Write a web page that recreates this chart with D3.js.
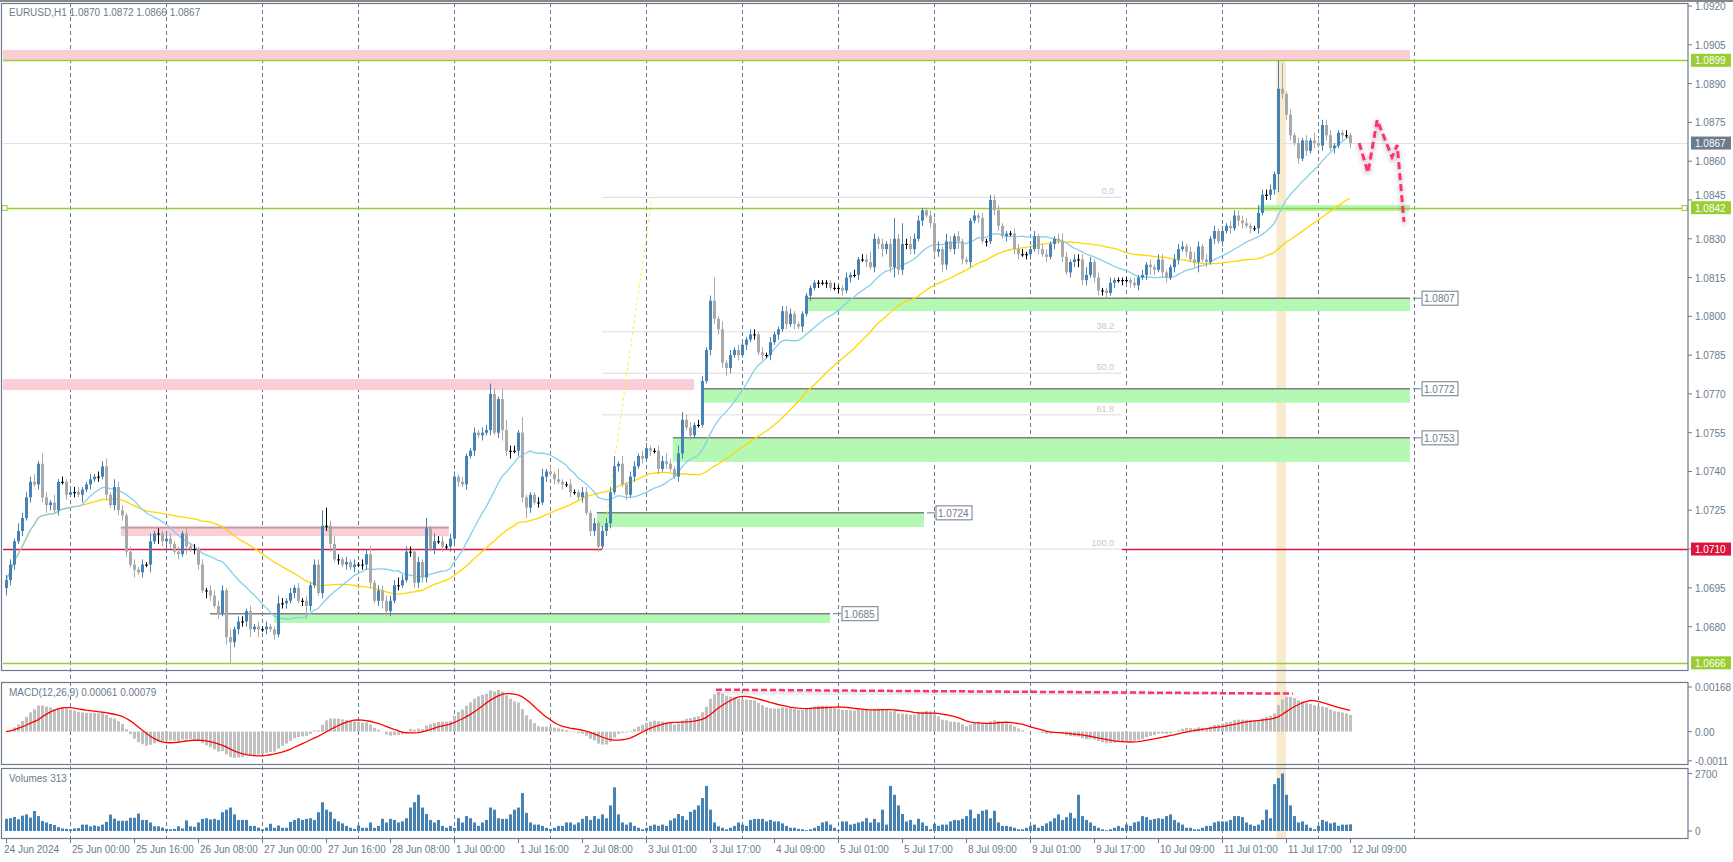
<!DOCTYPE html>
<html>
<head>
<meta charset="utf-8">
<script src="https://cdn.jsdelivr.net/npm/d3@7"></script>
<style>
  body { margin: 0; background: #fff; }
  svg { display: block; font-family: "Liberation Sans", Arial, sans-serif; }
</style>
</head>
<body>
<svg id="chart" width="1733" height="862"></svg>
<script>
// Close prices in pips above 1.0600, one per H1 bar (24 Jun 08:00 .. 12 Jul 08:00)
const closes = [
  98,104,113,117,122,130,136,135,143,130,127,128,125,136,136,131,132,132,131,133,
  135,137,138,138,142,131,127,134,125,123,109,104,102,101,104,104,113,116,116,113,
  114,112,109,108,116,111,110,110,104,94,94,92,88,85,94,76,74,79,82,82,
  86,79,80,79,79,80,79,77,89,89,90,93,95,90,90,88,96,104,93,119,
  119,112,106,106,104,105,103,104,104,104,108,97,90,94,90,86,90,96,96,98,
  109,109,97,105,99,118,110,113,113,111,111,114,138,136,135,146,148,155,154,155,
  156,170,155,168,156,148,148,148,155,130,126,131,128,128,138,140,139,137,136,135,
  135,132,132,130,132,124,117,120,111,117,120,132,142,143,135,131,138,142,146,145,
  149,148,148,141,144,143,141,138,147,160,157,154,158,158,175,187,206,199,195,182,
  180,185,187,185,189,191,193,193,186,185,185,190,193,195,202,197,201,197,196,201,
  208,211,213,213,213,213,211,211,211,210,215,216,216,222,222,221,219,230,228,226,
  228,219,230,218,228,228,226,230,237,241,239,236,225,226,220,229,226,231,229,222,
  221,237,239,238,229,229,245,241,235,231,232,232,226,224,224,224,226,231,226,224,
  223,228,230,229,223,217,221,222,222,214,216,221,215,210,210,209,213,214,214,214,
  214,213,212,215,216,220,219,218,222,217,215,219,222,226,227,225,222,221,227,222,
  221,230,233,229,233,235,234,239,237,236,235,234,234,240,247,247,249,255,288,286,
  278,270,267,261,268,264,268,267,266,274,270,265,266,271,270,270,267
];
const firstOpen = 95;
// Wick lengths beyond the body, in pips (a = 10, b = 11)
const wickHi =
  "2213222314" + "2131212221" + "1212231322" + "1221213121" + "3212121212" +
  "1222213122" + "1212121132" + "1212121226" + "7232121212" + "2312222232" +
  "2212141322" + "1221211212" + "2421442216" + "1112312141" + "1211221212" +
  "2241312212" + "2112232133" + "2212212913" + "1212112212" + "1211222111" +
  "1111111211" + "2121224212" + "1282823221" + "1223132121" + "1121212221" +
  "1122211212" + "2112321222" + "3212112111" + "1121212122" + "1122212321" +
  "2121212222" + "21132221ba" + "1212121322" + "2211121";
const wickLo =
  "3221212122" + "3212121213" + "1212121222" + "2131213142" + "4212131221" +
  "3212138222" + "2313121212" + "2121252112" + "2312121212" + "2212322121" +
  "1222221212" + "1232121212" + "1212423122" + "4212121212" + "1211212221" +
  "2212121212" + "1212121122" + "1211112222" + "3212121212" + "1212121212" +
  "1212121122" + "1212121223" + "2242222212" + "1222321232" + "1212121221" +
  "2122122121" + "2121212232" + "2122221212" + "1212123212" + "2122121241" +
  "2121212122" + "1212122272" + "2212121212" + "2121212";
// Tick volumes in tens
const volumes = [
  57,60,66,55,72,78,63,94,70,47,40,33,28,18,12,10,
  8,12,14,30,30,22,26,22,30,43,77,58,48,48,48,62,62,82,52,52,40,22,22,16,
  10,8,10,22,12,50,22,20,40,57,60,54,57,52,88,100,110,78,52,52,52,24,24,16,
  8,16,34,15,26,15,15,43,52,60,52,57,60,52,88,135,100,90,57,45,36,24,15,10,
  26,15,15,40,15,24,57,40,57,52,40,45,60,110,135,170,110,80,52,40,52,24,15,24,
  15,60,40,70,60,40,24,40,52,110,100,60,57,57,78,100,110,178,85,40,30,30,24,15,
  10,15,24,24,40,40,30,40,57,70,52,70,57,78,60,120,205,78,40,30,40,24,15,8,
  15,24,30,24,30,24,50,60,80,70,52,90,100,120,155,212,100,40,22,15,8,15,24,40,
  30,24,52,57,57,57,45,52,45,45,36,24,15,15,10,8,4,8,15,24,40,45,30,15,
  4,45,45,30,34,40,45,60,40,57,40,100,30,212,170,120,80,45,52,30,57,40,24,8,
  34,24,30,30,45,52,50,57,70,100,60,80,95,100,60,95,40,24,24,20,15,8,8,15,
  24,30,15,24,36,45,60,78,52,65,85,60,170,70,52,40,24,15,8,4,8,15,24,15,
  30,24,40,45,70,65,52,57,60,57,70,78,52,40,30,15,15,8,8,15,24,24,40,45,
  45,45,52,70,70,65,40,30,24,30,52,100,60,220,248,270,170,120,70,40,45,30,15,8,
  24,52,45,36,40,24,30,30,31.3
];
const timeLabels = ["24 Jun 2024","25 Jun 00:00","25 Jun 16:00","26 Jun 08:00","27 Jun 00:00",
  "27 Jun 16:00","28 Jun 08:00","1 Jul 00:00","1 Jul 16:00","2 Jul 08:00","3 Jul 01:00",
  "3 Jul 17:00","4 Jul 09:00","5 Jul 01:00","5 Jul 17:00","8 Jul 09:00","9 Jul 01:00",
  "9 Jul 17:00","10 Jul 09:00","11 Jul 01:00","11 Jul 17:00","12 Jul 09:00"];
const priceTicks = [1.0920,1.0905,1.0890,1.0875,1.0860,1.0845,1.0830,1.0815,1.0800,1.0785,
  1.0770,1.0755,1.0740,1.0725,1.0710,1.0695,1.0680];
// Support (green) and resistance (pink) zones: [fromBar, toBar, low, high]
const greenZones = [[200,351,1.0802,1.0807,"1.0807"],[174,351,1.07666,1.0772,"1.0772"],
  [166.7,351,1.07437,1.0753,"1.0753"],[147.7,229.5,1.07185,1.0724,"1.0724"],
  [67,206,1.06814,1.0685,"1.0685"]];
const pinkZones = [[-2,351,1.0899,1.0903],[-2,172,1.07715,1.07757],[28.7,110.7,1.0715,1.0719]];
const fibLevels = [[0,1.0846,"0.0"],[38.2,1.07940,"38.2"],[50,1.07780,"50.0"],[61.8,1.07619,"61.8"],[100,1.0710,"100.0"]];
const forecast = [[338.3,267],[340.5,255.6],[342.8,275.9],[346.5,261.6],[347.8,266.2],[349.5,236.5]];

const W = 1688, mainTop = 3, mainBot = 670, macdTop = 682, macdBot = 764, volTop = 768, volBot = 838;
const px = p => 1.06 + p / 10000;
const wv = ch => parseInt(ch, 36);

const bars = closes.map((c, i) => {
  const o = i === 0 ? firstOpen : closes[i - 1];
  return { i, o: px(o), c: px(c), h: px(Math.max(o, c) + wv(wickHi[i])), l: px(Math.min(o, c) - wv(wickLo[i])), v: volumes[i] * 10 };
});

// indicators from closes
function sma(arr, len) {
  return arr.map((d, i) => d3.mean(arr.slice(Math.max(0, i - len + 1), i + 1)));
}
function ema(arr, len) {
  const k = 2 / (len + 1); let prev = arr[0];
  return arr.map(d => (prev = d * k + prev * (1 - k)));
}
const cl = bars.map(b => b.c);
const ma20 = sma(cl, 20), ma50 = sma(cl, 50);
const e12 = ema(cl, 12), e26 = ema(cl, 26);
const macd = e12.map((d, i) => d - e26[i]);
const signal = sma(macd, 9);

const x = d3.scaleLinear().domain([0, 1]).range([6, 10]);
const y = d3.scaleLinear().domain([1.0666, 1.0920]).range([6 + 254 * 2.586, 6]);
const yM = d3.scaleLinear().domain([-0.0011, 0.00168]).range([760.8, 687]);
const yV = d3.scaleLinear().domain([0, 2700]).range([831, 773.5]);

const svg = d3.select("#chart");
const axisCol = "#6b7b8c";
const fs = 10;
const defs = svg.append("defs");
defs.append("clipPath").attr("id", "cm").append("rect").attr("x", 3).attr("y", mainTop + 1).attr("width", W - 3).attr("height", mainBot - mainTop - 1);
const f = defs.append("filter").attr("id", "glow").attr("x", "-20%").attr("y", "-20%").attr("width", "140%").attr("height", "140%");
f.append("feGaussianBlur").attr("in", "SourceAlpha").attr("stdDeviation", 2.5).attr("result", "b");
f.append("feOffset").attr("dy", 2).attr("result", "o");
f.append("feComponentTransfer").append("feFuncA").attr("type", "linear").attr("slope", 0.35);
const fm = f.append("feMerge"); fm.append("feMergeNode"); fm.append("feMergeNode").attr("in", "SourceGraphic");

// vertical dashed grid
const gridBars = d3.range(15).map(k => 16 + 24 * k);
svg.append("g").selectAll("line").data(gridBars).join("line")
  .attr("x1", d => x(d) + 0.5).attr("x2", d => x(d) + 0.5).attr("y1", mainTop).attr("y2", volBot)
  .attr("stroke", axisCol).attr("stroke-dasharray", "4,3").attr("stroke-width", 1);

// beige highlight band
svg.append("rect").attr("x", x(317.6)).attr("width", x(320) - x(317.6)).attr("y", y(1.0899)).attr("height", volBot - y(1.0899))
  .attr("fill", "#f0d9a8").attr("opacity", 0.55);

const main = svg.append("g").attr("clip-path", "url(#cm)");

// zones
main.selectAll(".pz").data(pinkZones).join("rect")
  .attr("x", d => x(d[0])).attr("width", d => x(d[1]) - x(d[0])).attr("y", d => y(d[3])).attr("height", d => y(d[2]) - y(d[3]))
  .attr("fill", "#fbcdd7");
main.append("line").attr("x1", x(28.7)).attr("x2", x(110.7)).attr("y1", y(1.07182)).attr("y2", y(1.07182)).attr("stroke", "#888");
main.selectAll(".gz").data(greenZones).join("rect")
  .attr("x", d => x(d[0])).attr("width", d => x(d[1]) - x(d[0])).attr("y", d => y(d[3])).attr("height", d => y(d[2]) - y(d[3]))
  .attr("fill", "#b4f8b4");
main.selectAll(".gl").data(greenZones).join("line")
  .attr("x1", d => x(d[0] - (d[4] === "1.0685" ? 16 : 0))).attr("x2", d => x(d[1])).attr("y1", d => y(d[3])).attr("y2", d => y(d[3]))
  .attr("stroke", "#808080").attr("stroke-width", 1.5);
main.append("rect").attr("x", x(313)).attr("width", x(351) - x(313)).attr("y", y(1.08431)).attr("height", y(1.08407) - y(1.08431)).attr("fill", "#b4f8b4");

// fibonacci
const fibX0 = x(149), fibX1 = x(279);
main.selectAll(".fib").data(fibLevels).join("line")
  .attr("x1", fibX0).attr("x2", fibX1).attr("y1", d => y(d[1])).attr("y2", d => y(d[1])).attr("stroke", "#dcdcdc");
main.selectAll(".fibt").data(fibLevels).join("text")
  .attr("x", fibX1 - 8).attr("y", d => y(d[1]) - 3).attr("text-anchor", "end").attr("font-size", 9).attr("fill", "#c8c8c8").text(d => d[2]);
main.append("line").attr("x1", fibX0).attr("y1", y(1.0710)).attr("x2", x(161.5)).attr("y2", y(1.0846))
  .attr("stroke", "#ffee33").attr("stroke-dasharray", "3,3");

// horizontal lines
[[1.0899, "#9acd32"], [1.0842, "#9acd32"], [1.0666, "#9acd32"], [1.0867, "#e0e0ef"]].forEach(([p, c]) => {
  main.append("line").attr("x1", 3).attr("x2", W).attr("y1", Math.round(y(p)) + 0.5).attr("y2", Math.round(y(p)) + 0.5).attr("stroke", c).attr("stroke-width", c === "#9acd32" ? 1.5 : 1);
});
[[3, x(149)], [fibX1, W]].forEach(([a, b]) => main.append("line").attr("x1", a).attr("x2", b).attr("y1", Math.round(y(1.0710)) + 0.5).attr("y2", Math.round(y(1.0710)) + 0.5).attr("stroke", "#dc143c").attr("stroke-width", 1.3));
[5, W - 3].forEach(cx => svg.append("rect").attr("x", cx - 3).attr("y", Math.round(y(1.0842)) - 2.5).attr("width", 5).attr("height", 5).attr("fill", "#fff").attr("stroke", "#9acd32"));

// moving averages
const line = d3.line().x((d, i) => x(i)).y(d => y(d));
main.append("path").attr("d", line(ma50)).attr("fill", "none").attr("stroke", "#ffd700").attr("stroke-width", 1.3);
main.append("path").attr("d", line(ma20)).attr("fill", "none").attr("stroke", "#87ceeb").attr("stroke-width", 1.3);

// candles
const col = b => b.c > b.o ? "#4682b4" : b.c < b.o ? "#a9a9a9" : "#000";
const cg = main.append("g");
cg.selectAll(".w").data(bars).join("line")
  .attr("x1", d => x(d.i) + 0.5).attr("x2", d => x(d.i) + 0.5).attr("y1", d => y(d.h)).attr("y2", d => y(d.l)).attr("stroke", col);
cg.selectAll(".b").data(bars).join("rect")
  .attr("x", d => x(d.i) - 1).attr("width", 3)
  .attr("y", d => y(Math.max(d.o, d.c))).attr("height", d => Math.max(1, Math.abs(y(d.o) - y(d.c))))
  .attr("fill", col);

// forecast path
main.append("path").attr("d", d3.line().x(d => x(d[0])).y(d => y(px(d[1])))(forecast))
  .attr("fill", "none").attr("stroke", "#ff3070").attr("stroke-width", 3).attr("stroke-dasharray", "7,4").attr("filter", "url(#glow)");

// zone labels
greenZones.forEach(d => {
  const lx = x(d[1]) + 3, ly = y(d[3]);
  const g = svg.append("g");
  g.append("line").attr("x1", lx).attr("x2", lx + 8).attr("y1", ly).attr("y2", ly).attr("stroke", axisCol);
  g.append("rect").attr("x", lx + 9).attr("y", ly - 7).attr("width", 36).attr("height", 14).attr("fill", "#fff").attr("stroke", axisCol);
  g.append("text").attr("x", lx + 11).attr("y", ly + 4).attr("font-size", fs).attr("fill", axisCol).text(d[4]);
});

// MACD panel
svg.selectAll(".mh").data(macd).join("rect")
  .attr("x", (d, i) => x(i) - 1).attr("width", 3)
  .attr("y", d => Math.min(yM(d), yM(0))).attr("height", d => Math.abs(yM(d) - yM(0)))
  .attr("fill", "#c0c0c0");
svg.append("path").attr("d", d3.line().x((d, i) => x(i)).y(d => yM(d))(signal)).attr("fill", "none").attr("stroke", "#ff0000").attr("stroke-width", 1.3);
svg.append("line").attr("x1", x(177.5)).attr("x2", x(321.7)).attr("y1", yM(0.00158)).attr("y2", yM(0.00143))
  .attr("stroke", "#ff3070").attr("stroke-width", 2.5).attr("stroke-dasharray", "6,3").attr("filter", "url(#glow)");

// volume panel
svg.selectAll(".vb").data(bars).join("rect")
  .attr("x", d => x(d.i) - 1).attr("width", 3).attr("y", d => yV(d.v)).attr("height", d => yV(0) - yV(d.v))
  .attr("fill", "#4682b4");

// frames
[[mainTop, mainBot], [macdTop, macdBot], [volTop, volBot]].forEach(([t, b]) => {
  svg.append("rect").attr("x", 1.5).attr("y", t + 0.5).attr("width", W - 1.5).attr("height", b - t).attr("fill", "none").attr("stroke", axisCol).attr("stroke-width", 1.2);
});
svg.append("line").attr("x1", 0).attr("x2", 1733).attr("y1", 1).attr("y2", 1).attr("stroke", "#888").attr("stroke-width", 2);

// right price axis
const ax = svg.append("g");
priceTicks.forEach(p => {
  ax.append("line").attr("x1", W).attr("x2", W + 4).attr("y1", y(p)).attr("y2", y(p)).attr("stroke", axisCol);
  if (p !== 1.0845) ax.append("text").attr("x", W + 7).attr("y", y(p) + 4).attr("font-size", fs).attr("fill", axisCol).text(p.toFixed(4));
});
ax.append("text").attr("x", W + 7).attr("y", y(1.0845) - 1).attr("font-size", fs).attr("fill", axisCol).text("1.0845");
[[1.0899, "#9acd32"], [1.0867, "#6b7b8c"], [1.0842, "#9acd32"], [1.0710, "#dc143c"], [1.0666, "#9acd32"]].forEach(([p, c]) => {
  ax.append("rect").attr("x", W + 3).attr("y", y(p) - 6.5).attr("width", 40).attr("height", 13).attr("fill", c);
  ax.append("text").attr("x", W + 7).attr("y", y(p) + 4).attr("font-size", fs).attr("fill", "#fff").text(p.toFixed(4));
});
[[0.00168, "0.00168"], [0, "0.00"], [-0.0011, "-0.0011"]].forEach(([v, t]) => {
  ax.append("line").attr("x1", W).attr("x2", W + 4).attr("y1", yM(v)).attr("y2", yM(v)).attr("stroke", axisCol);
  ax.append("text").attr("x", W + 7).attr("y", yM(v) + 4).attr("font-size", fs).attr("fill", axisCol).text(t);
});
[[2700, "2700"], [0, "0"]].forEach(([v, t]) => {
  ax.append("line").attr("x1", W).attr("x2", W + 4).attr("y1", yV(v)).attr("y2", yV(v)).attr("stroke", axisCol);
  ax.append("text").attr("x", W + 7).attr("y", yV(v) + 4).attr("font-size", fs).attr("fill", axisCol).text(t);
});

// time axis
timeLabels.forEach((t, k) => {
  const bx = x(16 * k);
  svg.append("line").attr("x1", bx + 0.5).attr("x2", bx + 0.5).attr("y1", volBot).attr("y2", volBot + 5).attr("stroke", axisCol);
  svg.append("text").attr("x", k === 0 ? 4 : bx + 2).attr("y", volBot + 15).attr("font-size", fs).attr("fill", axisCol).text(t);
});

// titles
svg.append("text").attr("x", 9).attr("y", 16).attr("font-size", fs).attr("fill", axisCol).text("EURUSD,H1  1.0870 1.0872 1.0866 1.0867");
svg.append("text").attr("x", 9).attr("y", macdTop + 14).attr("font-size", fs).attr("fill", axisCol).text("MACD(12,26,9) 0.00061 0.00079");
svg.append("text").attr("x", 9).attr("y", volTop + 14).attr("font-size", fs).attr("fill", axisCol).text("Volumes 313");
</script>
</body>
</html>
